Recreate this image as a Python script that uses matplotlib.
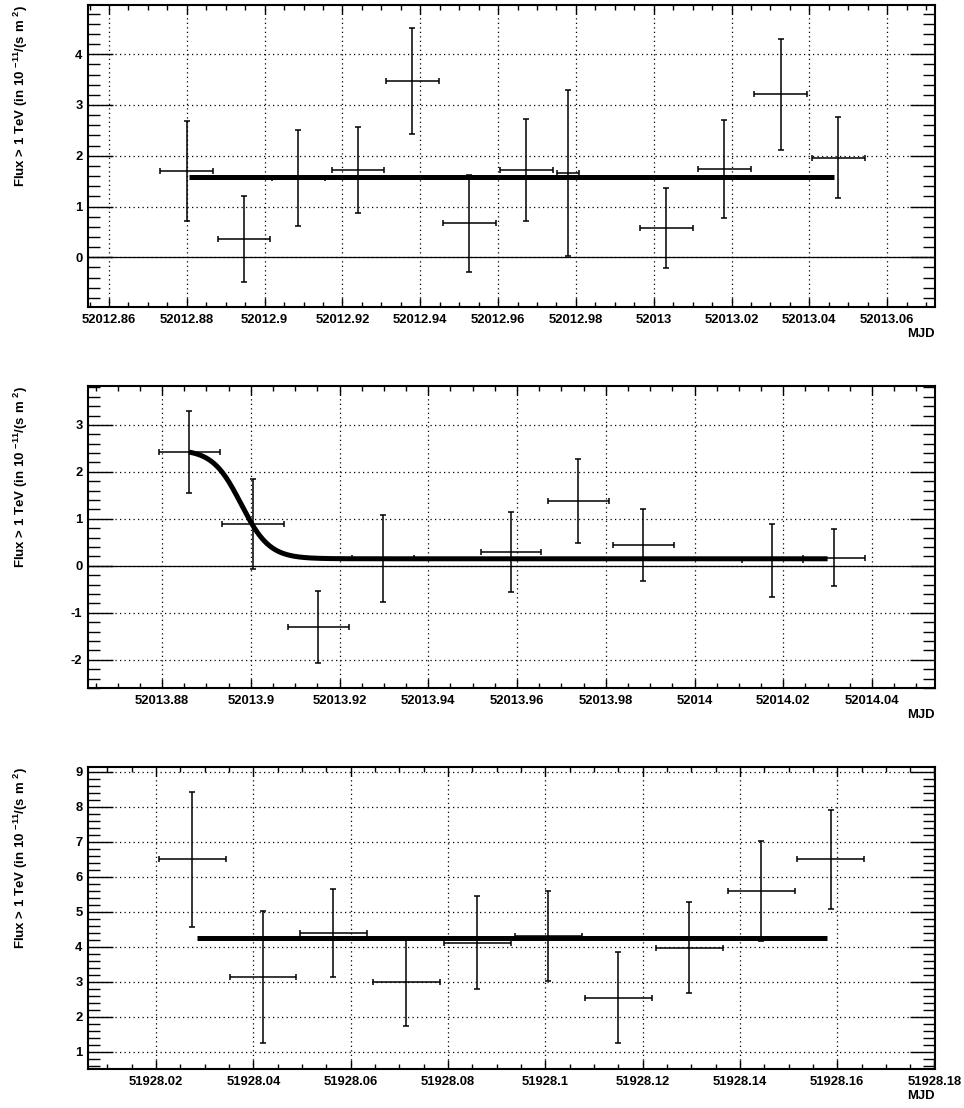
import matplotlib
matplotlib.use('Agg')
import numpy as np
import matplotlib.pyplot as plt
from matplotlib.ticker import MultipleLocator, FuncFormatter

plt.rcParams['font.family'] = 'Liberation Sans'
plt.rcParams['font.weight'] = 'bold'
plt.rcParams['mathtext.fontset'] = 'custom'
plt.rcParams['mathtext.rm'] = 'Liberation Sans:bold'
plt.rcParams['mathtext.it'] = 'Liberation Sans:bold'
plt.rcParams['mathtext.bf'] = 'Liberation Sans:bold'
plt.rcParams['axes.unicode_minus'] = False

# night 1: 52012
n1_mjd = [52012.880, 52012.8947, 52012.9086, 52012.924, 52012.9379, 52012.9526,
          52012.9672, 52012.978, 52013.0032, 52013.0181, 52013.0327, 52013.0474]
n1_dt = [0.0068, 0.0068, 0.0068, 0.0068, 0.0068, 0.0068,
         0.0068, 0.0028, 0.0068, 0.0068, 0.0068, 0.0068]
n1_flux = [1.70, 0.36, 1.56, 1.72, 3.47, 0.67, 1.72, 1.66, 0.57, 1.74, 3.21, 1.96]
n1_err = [0.98, 0.85, 0.94, 0.84, 1.05, 0.96, 1.01, 1.63, 0.79, 0.96, 1.09, 0.80]
n1_const = 1.58
n1_fit_range = (52012.8806, 52013.0464)

# night 2: 52013
n2_mjd = [52013.8861, 52013.9005, 52013.9152, 52013.9298, 52013.9587,
          52013.9738, 52013.9885, 52014.0175, 52014.0315]
n2_dt = [0.0069, 0.0069, 0.0069, 0.0069, 0.0068, 0.0069, 0.0069, 0.0069, 0.0070]
n2_flux = [2.43, 0.89, -1.30, 0.16, 0.30, 1.38, 0.45, 0.12, 0.17]
n2_err = [0.87, 0.95, 0.77, 0.93, 0.85, 0.90, 0.77, 0.78, 0.61]
# step fit: base + height / (1 + exp((t - t0) / width))
n2_base, n2_height, n2_t0, n2_width = 0.15, 2.33, 52013.8978, 0.0032
n2_fit_range = (52013.8861, 52014.030)

# night 3: 51928
n3_mjd = [51928.0274, 51928.042, 51928.0564, 51928.0714, 51928.086,
          51928.1006, 51928.115, 51928.1296, 51928.1444, 51928.1587]
n3_dt = [0.0069, 0.0068, 0.0069, 0.0069, 0.0069, 0.0069, 0.0069, 0.0069, 0.0069, 0.0069]
n3_flux = [6.50, 3.14, 4.39, 3.00, 4.12, 4.32, 2.55, 3.98, 5.60, 6.50]
n3_err = [1.93, 1.89, 1.25, 1.26, 1.32, 1.29, 1.29, 1.29, 1.43, 1.41]
n3_const = 4.26
n3_fit_range = (51928.0284, 51928.158)

ylabel = r'Flux > 1 TeV (in 10 $^{-11}$/(s m $^{2}$)'

fig = plt.figure(figsize=(9.64, 11.08), dpi=100)
left, width, height = 0.0913, 0.8786, 0.2726
ax1 = fig.add_axes([left, 0.7229, width, height])
ax2 = fig.add_axes([left, 0.3791, width, height])
ax3 = fig.add_axes([left, 0.0352, width, height])


def style_axes(ax, xlim, ylim):
    ax.set_xlim(xlim)
    ax.set_ylim(ylim)
    ax.xaxis.set_major_locator(MultipleLocator(0.02))
    ax.xaxis.set_minor_locator(MultipleLocator(0.005))
    ax.yaxis.set_major_locator(MultipleLocator(1))
    ax.yaxis.set_minor_locator(MultipleLocator(0.2))
    ax.xaxis.set_major_formatter(FuncFormatter(lambda v, p: f'{round(v, 4):.10g}'))
    ax.yaxis.set_major_formatter(FuncFormatter(lambda v, p: f'{round(v, 4):g}'))
    ax.tick_params(axis='both', which='both', direction='in', top=True, right=True,
                   width=1.0, labelsize=9.4)
    ax.tick_params(axis='x', which='major', length=6.5, pad=5)
    ax.tick_params(axis='x', which='minor', length=3.3)
    ax.tick_params(axis='y', which='major', length=18, pad=4)
    ax.tick_params(axis='y', which='minor', length=8.6)
    ax.grid(True, which='major', color='black', linestyle=(0, (1, 2.6)), linewidth=0.9)
    ax.set_axisbelow(True)
    for s in ax.spines.values():
        s.set_linewidth(1.5)
    ax.text(-0.0795, 1.0, ylabel, rotation=90, ha='center', va='top',
            fontsize=9.5, transform=ax.transAxes)
    ax.text(1.0, -0.089, 'MJD', ha='right', va='center', fontsize=9.4,
            transform=ax.transAxes)


def draw_points(ax, mjd, dt, flux, err):
    ax.errorbar(mjd, flux, xerr=dt, yerr=err, fmt='none', ecolor='black',
                elinewidth=1.1, capsize=2.5, capthick=1.1, zorder=3)


style_axes(ax1, (52012.8546, 52013.0723), (-0.98, 4.97))
ax1.axhline(0, color='black', lw=0.9, zorder=2)
draw_points(ax1, n1_mjd, n1_dt, n1_flux, n1_err)
ax1.plot(n1_fit_range, [n1_const, n1_const], color='black', lw=3.6,
         solid_capstyle='butt', zorder=4)

style_axes(ax2, (52013.8633, 52014.0542), (-2.6, 3.83))
ax2.axhline(0, color='black', lw=0.9, zorder=2)
draw_points(ax2, n2_mjd, n2_dt, n2_flux, n2_err)
t = np.linspace(n2_fit_range[0], n2_fit_range[1], 500)
f = n2_base + n2_height / (1.0 + np.exp((t - n2_t0) / n2_width))
ax2.plot(t, f, color='black', lw=3.6, solid_capstyle='butt', zorder=4)

style_axes(ax3, (51928.006, 51928.1801), (0.51, 9.14))
draw_points(ax3, n3_mjd, n3_dt, n3_flux, n3_err)
ax3.plot(n3_fit_range, [n3_const, n3_const], color='black', lw=3.6,
         solid_capstyle='butt', zorder=4)

fig.savefig('out.png', dpi=100)
